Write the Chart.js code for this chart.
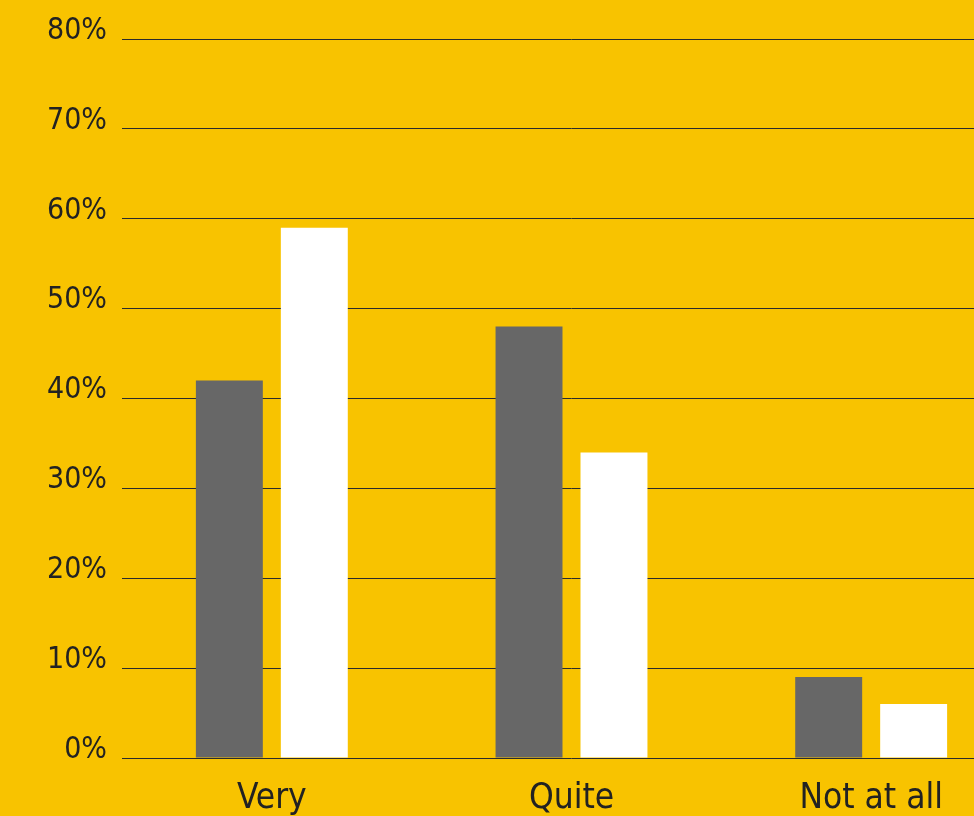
<!DOCTYPE html>
<html>
<head>
<meta charset="utf-8">
<script src="https://cdn.jsdelivr.net/npm/chart.js@4"></script>
<style>
  html, body { margin: 0; padding: 0; background: #F8C300; overflow: hidden; }
  #wrap { width: 1021px; height: 816px; }
</style>
</head>
<body>
<div id="wrap"><canvas id="myChart" width="1021" height="816"></canvas></div>
<script>
const labels = ['Very', 'Quite', 'Not at all'];
const greyValues = [42, 48, 9];
const whiteValues = [59, 34, 6];
const yTicks = [0, 10, 20, 30, 40, 50, 60, 70, 80];

const fontFamily = '"Liberation Sans Narrow", "DejaVu Sans Condensed", "Open Sans", sans-serif';

const renderChart = () => {
    var ctx = document.getElementById('myChart').getContext('2d');
    new Chart(ctx, {
        type: 'bar',
        data: {
            labels: labels,
            datasets: [{
                label: 'Series 1',
                data: greyValues,
                backgroundColor: '#676767'
            }, {
                label: 'Series 2',
                data: whiteValues,
                backgroundColor: '#ffffff'
            }]
        },
        options: {
            responsive: false,
            animation: false,
            categoryPercentage: 0.567,
            barPercentage: 0.788,
            layout: { padding: { top: 39, right: 0, left: 0, bottom: 0 } },
            plugins: {
                legend: { display: false },
                tooltip: { enabled: false }
            },
            scales: {
                x: {
                    grid: { display: false },
                    border: { display: false },
                    ticks: {
                        color: '#222',
                        font: { family: fontFamily, size: 35 },
                        padding: 12
                    },
                    afterFit: (scale) => { scale.height = 58; }
                },
                y: {
                    min: 0,
                    max: 80,
                    afterBuildTicks: (scale) => { scale.ticks = yTicks.map(v => ({ value: v })); },
                    grid: { color: '#2b2b2b', lineWidth: 1, drawTicks: false },
                    border: { display: false },
                    ticks: {
                        color: '#222',
                        font: { family: fontFamily, size: 30 },
                        padding: 15,
                        labelOffset: -8,
                        callback: (v) => v + '%'
                    },
                    afterFit: (scale) => { scale.width = 122; }
                }
            }
        }
    });
};

renderChart();
</script>
</body>
</html>
